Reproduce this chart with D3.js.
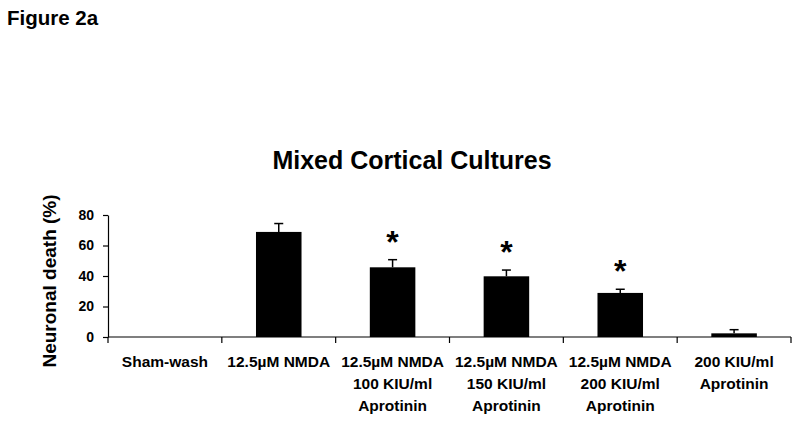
<!DOCTYPE html>
<html><head><meta charset="utf-8">
<script src="https://cdn.jsdelivr.net/npm/d3@7"></script>
<style>body{margin:0;background:#fff;}svg{display:block;font-family:"Liberation Sans",Arial,sans-serif;}</style>
</head><body>
<svg id="c" width="800" height="423"></svg>
<script>
const categories = [
  ["Sham-wash"],
  ["12.5µM NMDA"],
  ["12.5µM NMDA", "100 KIU/ml", "Aprotinin"],
  ["12.5µM NMDA", "150 KIU/ml", "Aprotinin"],
  ["12.5µM NMDA", "200 KIU/ml", "Aprotinin"],
  ["200 KIU/ml", "Aprotinin"]
];
const values = [0, 68.9, 45.7, 39.8, 28.9, 2.4];
const errors = [0, 5.5, 5.0, 4.1, 2.4, 2.4];
const significant = [false, false, true, true, true, false];
const yTicks = [0, 20, 40, 60, 80];

const svg = d3.select("#c");
const left = 108, right = 791, y0 = 337, yTop = 215;
const ids = categories.map((c, i) => i);
const x = d3.scaleBand().domain(ids).range([left, right]).paddingInner(0.6).paddingOuter(0.3);
const xb = d3.scaleBand().domain(ids).range([left, right]).padding(0);
const y = d3.scaleLinear().domain([0, 80]).range([y0, yTop]);

svg.append("text").attr("x", 7).attr("y", 25).attr("font-size", 20.5).attr("font-weight", "bold").text("Figure 2a");
svg.append("text").attr("x", 412).attr("y", 169).attr("text-anchor", "middle").attr("font-size", 25).attr("font-weight", "bold").text("Mixed Cortical Cultures");

// y axis
const ya = d3.axisLeft(y).tickValues(yTicks).tickSize(5).tickPadding(9).tickSizeOuter(0);
const gy = svg.append("g").attr("transform", `translate(${left},0)`).call(ya);
gy.selectAll("text").attr("font-size", 14).attr("font-weight", "bold").attr("fill", "#000").attr("font-family", "Liberation Sans, Arial, sans-serif");
gy.selectAll("line,path").attr("stroke", "#000").attr("stroke-width", 1.2);

// x axis line & boundary ticks
svg.append("line").attr("x1", left).attr("x2", right).attr("y1", y0).attr("y2", y0).attr("stroke", "#000").attr("stroke-width", 1.2);
const bounds = ids.map(i => xb(i)).concat([right]);
svg.selectAll(".xt").data(bounds).join("line").attr("x1", d => d).attr("x2", d => d).attr("y1", y0).attr("y2", y0 + 6).attr("stroke", "#000").attr("stroke-width", 1.2);

// bars
svg.selectAll(".bar").data(values).join("rect")
  .attr("x", (d, i) => x(i)).attr("width", x.bandwidth())
  .attr("y", d => y(d)).attr("height", d => y0 - y(d)).attr("fill", "#000");

// error bars
ids.forEach(i => {
  if (values[i] <= 0) return;
  const cx = x(i) + x.bandwidth() / 2;
  const top = y(values[i] + errors[i]);
  svg.append("line").attr("x1", cx).attr("x2", cx).attr("y1", y(values[i])).attr("y2", top).attr("stroke", "#000").attr("stroke-width", 1.5);
  svg.append("line").attr("x1", cx - 4.5).attr("x2", cx + 4.5).attr("y1", top).attr("y2", top).attr("stroke", "#000").attr("stroke-width", 1.5);
  if (significant[i]) {
    svg.append("text").attr("x", cx).attr("y", top - 7).attr("text-anchor", "middle").attr("font-size", 32).attr("font-weight", "bold").text("*");
  }
});

// category labels
ids.forEach(i => {
  const cx = xb(i) + xb.bandwidth() / 2;
  const t = svg.append("text").attr("text-anchor", "middle").attr("font-size", 15.5).attr("font-weight", "bold");
  categories[i].forEach((line, k) => {
    t.append("tspan").attr("x", cx).attr("y", 367 + k * 22).text(line);
  });
});

// y label
svg.append("text").attr("transform", "translate(56,281) rotate(-90)").attr("text-anchor", "middle").attr("font-size", 19).attr("font-weight", "bold").text("Neuronal death (%)");
</script>
</body></html>
